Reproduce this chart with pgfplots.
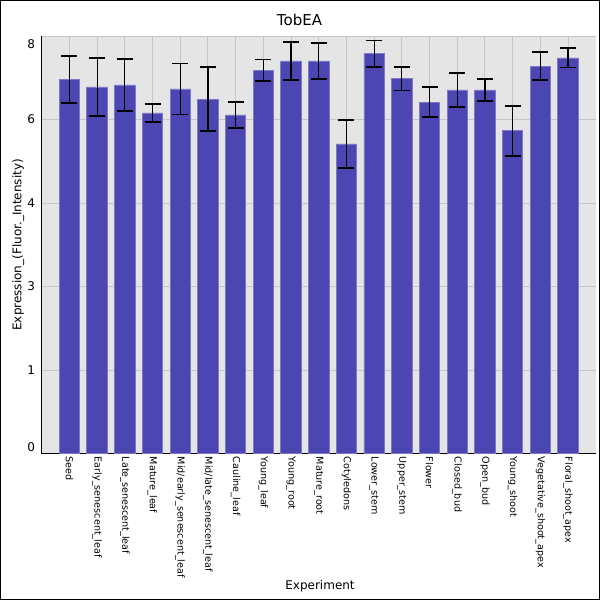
\documentclass[border=0pt]{standalone}
\usepackage{fontspec}
\setmainfont{DejaVu Sans}
\usepackage{pgfplots}
\pgfplotsset{compat=1.18}
\usepackage{pgfplotstable}
\definecolor{barc}{RGB}{75,70,178}
\definecolor{bare}{RGB}{125,120,200}
\definecolor{bgc}{RGB}{229,229,229}
\definecolor{gridc}{RGB}{198,198,198}

\pgfplotstableread{
x y e
0 7.34 0.46
1 7.20 0.565
2 7.24 0.51
3 6.69 0.18
4 7.16 0.50
5 6.96 0.63
6 6.65 0.26
7 7.53 0.21
8 7.71 0.38
9 7.71 0.36
10 6.08 0.475
11 7.85 0.26
12 7.36 0.23
13 6.90 0.295
14 7.14 0.335
15 7.14 0.21
16 6.34 0.49
17 7.61 0.28
18 7.77 0.19
}\datatable

\begin{document}
\begin{tikzpicture}[x=1pt,y=1pt]
\useasboundingbox (0,0) rectangle (600,600);
\fill[white] (0,0) rectangle (600,600);
\draw[black, line width=1.2pt] (0.6,0.6) rectangle (599.4,599.4);
\node[anchor=base, font=\fontsize{15}{18}\selectfont] at (299.5,574) {TobEA};
\begin{axis}[
  at={(41.7pt,146.3pt)}, anchor=south west,
  width=554pt, height=417.7pt, scale only axis,
  xmin=-1, xmax=19, ymin=0, ymax=8.2,
  axis background/.style={fill=bgc},
  axis lines*=left,
  axis line style={black, line width=0.9pt},
  major tick length=0pt,
  xtick={0,...,18},
  xticklabels={Seed, Early\_senescent\_leaf, Late\_senescent\_leaf, Mature\_leaf, Mid/early\_senescent\_leaf, Mid/late\_senescent\_leaf, Cauline\_leaf, Young\_leaf, Young\_root, Mature\_root, Cotyledons, Lower\_stem, Upper\_stem, Flower, Closed\_bud, Open\_bud, Young\_shoot, Vegetative\_shoot\_apex, Floral\_shoot\_apex},
  xticklabel style={font=\fontsize{9.6}{11}\selectfont, rotate=-90, anchor=west, inner sep=3pt},
  ytick={0,1.64,3.28,4.92,6.56,8.2},
  yticklabels={\raisebox{6.4pt}[\height][\depth]{0},1,3,4,6,\raisebox{-8.3pt}[\height][\depth]{8}},
  yticklabel style={font=\fontsize{12}{14}\selectfont, anchor=east, inner sep=0pt, xshift=-6.5pt},
  xmajorgrids, ymajorgrids,
  grid style={gridc, line width=0.9pt},
  xlabel={Experiment},
  xlabel style={font=\fontsize{12}{14}\selectfont, at={(axis description cs:0.5024,-0.3262)}, anchor=base},
  ylabel={Expression\_(Fluor.\_Intensity)},
  ylabel style={font=\fontsize{12}{14}\selectfont, at={(axis description cs:-0.0365,0.5)}, anchor=base},
]
\addplot[ybar, bar width=20.4pt, fill=barc, draw=bare, line width=0.8pt,
  error bars/.cd, y dir=both, y explicit,
  error mark=|,
  error bar style={black, line width=1.2pt},
  error mark options={black, line width=1.8pt, mark size=8pt}]
  table[x=x, y=y, y error=e] {\datatable};
\end{axis}
\end{tikzpicture}
\end{document}
